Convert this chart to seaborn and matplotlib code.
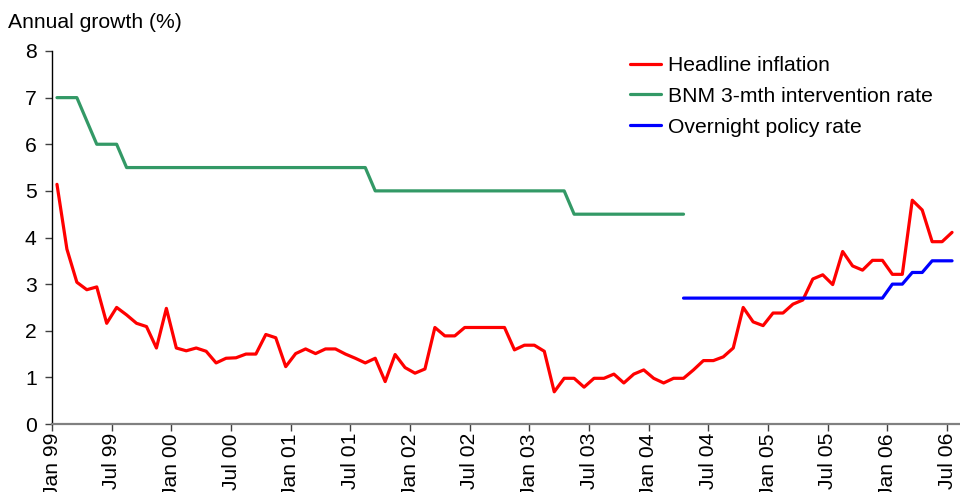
import numpy as np
import pandas as pd
import matplotlib
matplotlib.use("Agg")
import matplotlib.pyplot as plt
import seaborn as sns

# ---- data (monthly, Jan 1999 .. Jul 2006) ----
headline_inflation = [
    5.14, 3.75, 3.04, 2.88, 2.94, 2.16, 2.50, 2.34, 2.16, 2.09, 1.63, 2.48,   # 1999
    1.63, 1.57, 1.63, 1.56, 1.31, 1.41, 1.42, 1.50, 1.50, 1.92, 1.85, 1.23,   # 2000
    1.51, 1.61, 1.51, 1.61, 1.61, 1.50, 1.41, 1.31, 1.41, 0.91, 1.49, 1.21,   # 2001
    1.09, 1.18, 2.07, 1.89, 1.89, 2.07, 2.07, 2.07, 2.07, 2.07, 1.59, 1.69,   # 2002
    1.69, 1.56, 0.69, 0.98, 0.98, 0.79, 0.98, 0.98, 1.07, 0.88, 1.07, 1.16,   # 2003
    0.98, 0.88, 0.98, 0.98, 1.16, 1.36, 1.36, 1.44, 1.63, 2.50, 2.19, 2.11,   # 2004
    2.38, 2.38, 2.57, 2.66, 3.11, 3.20, 2.99, 3.70, 3.39, 3.30, 3.51, 3.51,   # 2005
    3.21, 3.21, 4.80, 4.59, 3.91, 3.91, 4.11,                                 # 2006
]
nan = np.nan
bnm_intervention_rate = [
    7.0, 7.0, 7.0, 6.5, 6.0, 6.0, 6.0, 5.5, 5.5, 5.5, 5.5, 5.5,   # 1999
    5.5, 5.5, 5.5, 5.5, 5.5, 5.5, 5.5, 5.5, 5.5, 5.5, 5.5, 5.5,   # 2000
    5.5, 5.5, 5.5, 5.5, 5.5, 5.5, 5.5, 5.5, 5.0, 5.0, 5.0, 5.0,   # 2001
    5.0, 5.0, 5.0, 5.0, 5.0, 5.0, 5.0, 5.0, 5.0, 5.0, 5.0, 5.0,   # 2002
    5.0, 5.0, 5.0, 5.0, 4.5, 4.5, 4.5, 4.5, 4.5, 4.5, 4.5, 4.5,   # 2003
    4.5, 4.5, 4.5, 4.5, nan, nan, nan, nan, nan, nan, nan, nan,   # 2004
    nan, nan, nan, nan, nan, nan, nan, nan, nan, nan, nan, nan,   # 2005
    nan, nan, nan, nan, nan, nan, nan,                            # 2006
]
overnight_policy_rate = [
    nan, nan, nan, nan, nan, nan, nan, nan, nan, nan, nan, nan,   # 1999
    nan, nan, nan, nan, nan, nan, nan, nan, nan, nan, nan, nan,   # 2000
    nan, nan, nan, nan, nan, nan, nan, nan, nan, nan, nan, nan,   # 2001
    nan, nan, nan, nan, nan, nan, nan, nan, nan, nan, nan, nan,   # 2002
    nan, nan, nan, nan, nan, nan, nan, nan, nan, nan, nan, nan,   # 2003
    nan, nan, nan, 2.7, 2.7, 2.7, 2.7, 2.7, 2.7, 2.7, 2.7, 2.7,   # 2004
    2.7, 2.7, 2.7, 2.7, 2.7, 2.7, 2.7, 2.7, 2.7, 2.7, 2.7, 2.7,   # 2005
    3.0, 3.0, 3.25, 3.25, 3.5, 3.5, 3.5,                          # 2006
]
tick_labels = ["Jan 99", "Jul 99", "Jan 00", "Jul 00", "Jan 01", "Jul 01",
               "Jan 02", "Jul 02", "Jan 03", "Jul 03", "Jan 04", "Jul 04",
               "Jan 05", "Jul 05", "Jan 06", "Jul 06"]
series_names = ["Headline inflation", "BNM 3-mth intervention rate",
                "Overnight policy rate"]
series_colors = ["#FF0000", "#339966", "#0000FF"]

month_idx = np.arange(len(headline_inflation))
df = pd.DataFrame({
    "month": np.tile(month_idx, 3),
    "value": headline_inflation + bnm_intervention_rate + overnight_policy_rate,
    "series": np.repeat(series_names, len(month_idx)),
})

sns.set_style("white")
plt.rcParams["font.family"] = ["Liberation Sans", "DejaVu Sans"]
plt.rcParams["text.color"] = "black"
plt.rcParams["axes.labelcolor"] = "black"
plt.rcParams["xtick.color"] = "black"
plt.rcParams["ytick.color"] = "black"
FS = 15.2

fig = plt.figure(figsize=(9.6, 4.92), dpi=100)
ax = fig.add_axes([52 / 960, 1 - 424 / 492, (960 - 52) / 960, (424 - 51) / 492])

for name, col in zip(series_names, series_colors):
    sub = df[df["series"] == name].dropna()
    sns.lineplot(data=sub, x="month", y="value", ax=ax, color=col,
                 linewidth=2.3, label=name, estimator=None, sort=True)

ax.set_xlim(-0.5, 90.8)
ax.set_ylim(0, 8)
ax.set_yticks(range(0, 9))
ax.set_xticks(np.arange(len(tick_labels)) * 6 - 0.5)
ax.set_xticklabels(tick_labels, rotation=90, ha="center", va="top")
ax.set_xlabel("")
ax.set_ylabel("")

for s in ["top", "right"]:
    ax.spines[s].set_visible(False)
ax.spines["left"].set_color("black")
ax.spines["left"].set_linewidth(1.0)
ax.spines["bottom"].set_color("#808080")
ax.spines["bottom"].set_linewidth(1.6)

ax.tick_params(axis="y", which="major", direction="out", length=5, width=1,
               color="#404040", labelcolor="black", labelsize=FS, pad=6, left=True)
ax.tick_params(axis="x", which="major", direction="out", length=5, width=1,
               color="#404040", labelcolor="black", labelsize=FS, pad=1.5, bottom=True)

fig.text(8 / 960, 1 - 23 / 492, "Annual growth (%)", fontsize=FS,
         ha="left", va="center", color="black")

leg = ax.legend(loc="upper left", bbox_to_anchor=(630 / 960, 1 - 56 / 492),
                bbox_transform=fig.transFigure, frameon=False, fontsize=FS,
                handlelength=1.45, handletextpad=0.35, labelspacing=0.56,
                borderpad=0, borderaxespad=0)
for line in leg.get_lines():
    line.set_linewidth(2.3)
for t in leg.get_texts():
    t.set_color("black")

fig.savefig("out.png", dpi=100)
